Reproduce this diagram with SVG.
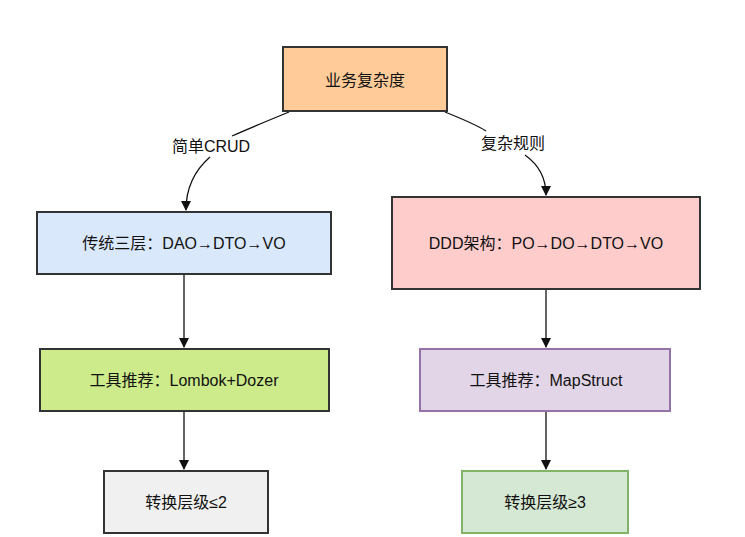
<svg xmlns="http://www.w3.org/2000/svg" width="745" height="537" viewBox="0 0 745 537">
<defs>
<style>
text{font-family:"Liberation Sans","Noto Sans CJK SC",sans-serif;font-size:16px;fill:#111;text-anchor:middle;dominant-baseline:central}
rect{stroke-width:2}
.e{fill:none;stroke:#111;stroke-width:1.3}
</style>
<marker id="a" viewBox="0 0 10 10" refX="9" refY="5" markerWidth="8" markerHeight="8" orient="auto"><path d="M0,0L10,5L0,10z" fill="#111"/></marker>
</defs>
<rect width="745" height="537" fill="#fff"/>
<g id="connectors">
<path class="e" d="M289,112 Q250,128 232,136"/>
<path class="e" d="M210,157 Q186,178 186,210" marker-end="url(#a)"/>
<path class="e" d="M445,112 Q475,124 486,131"/>
<path class="e" d="M525,155 Q546,170 546,195" marker-end="url(#a)"/>
<path class="e" d="M184,275 V347" marker-end="url(#a)"/>
<path class="e" d="M546,290 V347" marker-end="url(#a)"/>
<path class="e" d="M184,412 V469" marker-end="url(#a)"/>
<path class="e" d="M546,412 V469" marker-end="url(#a)"/>
<text x="211" y="146">简单CRUD</text>
<text x="513" y="143">复杂规则</text>
</g>
<g id="n1"><rect x="283" y="47" width="164" height="64" fill="#ffcc99" stroke="#333"/><text x="365" y="80">业务复杂度</text></g>
<g id="n2"><rect x="37" y="212" width="294" height="62" fill="#dae8fc" stroke="#333"/><text x="184" y="243">传统三层：DAO→DTO→VO</text></g>
<g id="n3"><rect x="392" y="197" width="308" height="92" fill="#ffcccc" stroke="#333"/><text x="546" y="243">DDD架构：PO→DO→DTO→VO</text></g>
<g id="n4"><rect x="40" y="349" width="289" height="62" fill="#cdeb8b" stroke="#333"/><text x="184" y="380">工具推荐：Lombok+Dozer</text></g>
<g id="n5"><rect x="420" y="349" width="250" height="62" fill="#e1d5e7" stroke="#9673a6"/><text x="546" y="380">工具推荐：MapStruct</text></g>
<g id="n6"><rect x="104" y="471" width="164" height="62" fill="#f0f0f0" stroke="#333"/><text x="186" y="502">转换层级≤2</text></g>
<g id="n7"><rect x="462" y="471" width="166" height="62" fill="#d5e8d4" stroke="#82b366"/><text x="545" y="502">转换层级≥3</text></g>
</svg>
